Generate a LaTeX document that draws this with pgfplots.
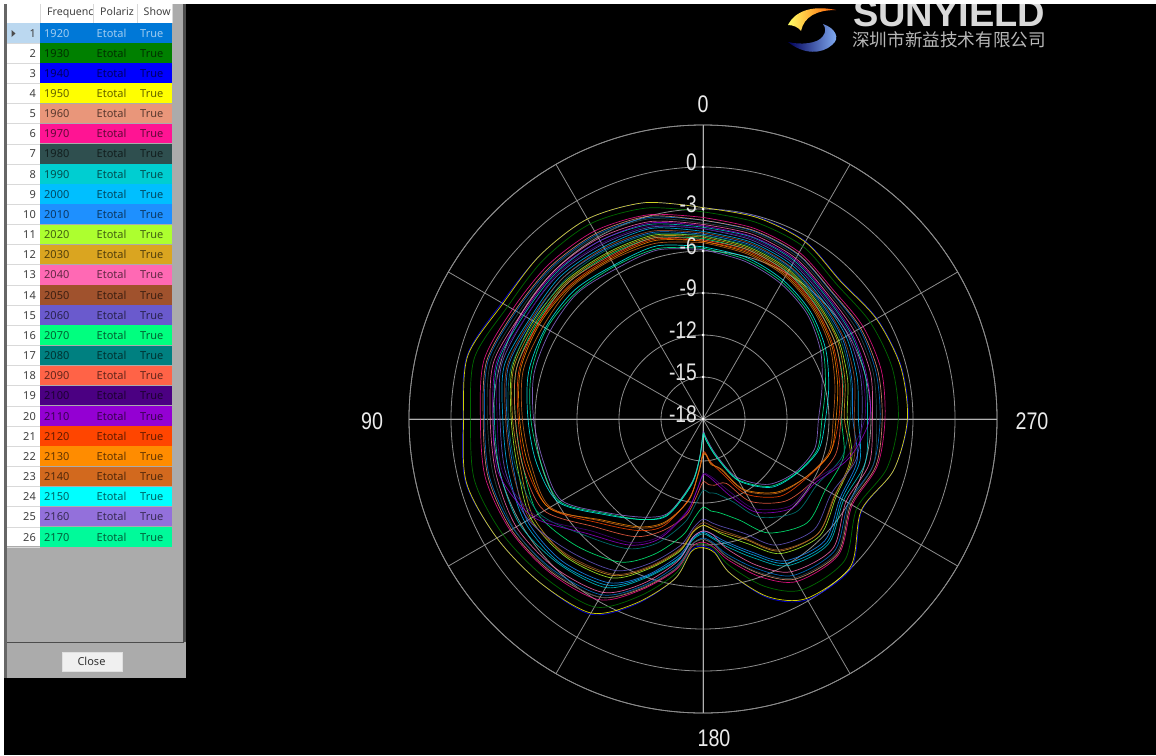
\documentclass[border=0pt]{standalone}
\usepackage{fontspec}
\usepackage{pgfplots}
\usepackage{pgfplotstable}
\pgfplotsset{compat=1.18}
\usepgfplotslibrary{polar}
\setmainfont{Liberation Sans}
\newfontfamily\ui{Noto Sans}
\newfontfamily\cjk{Noto Sans CJK SC}

\definecolor{c1920}{HTML}{0078D7}
\definecolor{c1930}{HTML}{008000}
\definecolor{c1940}{HTML}{0000FF}
\definecolor{c1950}{HTML}{FFFF00}
\definecolor{c1960}{HTML}{E9967A}
\definecolor{c1970}{HTML}{FF1493}
\definecolor{c1980}{HTML}{2F4F4F}
\definecolor{c1990}{HTML}{00CED1}
\definecolor{c2000}{HTML}{00BFFF}
\definecolor{c2010}{HTML}{1E90FF}
\definecolor{c2020}{HTML}{ADFF2F}
\definecolor{c2030}{HTML}{DAA520}
\definecolor{c2040}{HTML}{FF69B4}
\definecolor{c2050}{HTML}{A0522D}
\definecolor{c2060}{HTML}{6A5ACD}
\definecolor{c2070}{HTML}{00FF7F}
\definecolor{c2080}{HTML}{008080}
\definecolor{c2090}{HTML}{FF6347}
\definecolor{c2100}{HTML}{4B0082}
\definecolor{c2110}{HTML}{9400D3}
\definecolor{c2120}{HTML}{FF4500}
\definecolor{c2130}{HTML}{FF8C00}
\definecolor{c2140}{HTML}{D2691E}
\definecolor{c2150}{HTML}{00FFFF}
\definecolor{c2160}{HTML}{9370DB}
\definecolor{c2170}{HTML}{00FA9A}
\definecolor{rowhead}{HTML}{BBD8F0}

% gain in dB, angle counted from the top, anticlockwise
\pgfplotstableread{
a s1920 s1930 s1940 s1950 s1960 s1970 s1980 s1990 s2000 s2010 s2020 s2030 s2040 s2050 s2060 s2070 s2080 s2090 s2100 s2110 s2120 s2130 s2140 s2150 s2160 s2170
0 -3.8 -3.2 -2.9 -2.9 -3.8 -3.6 -4.0 -4.3 -4.6 -4.8 -4.9 -5.0 -4.1 -4.7 -4.4 -5.1 -4.9 -5.2 -4.4 -4.2 -5.3 -5.3 -5.4 -5.7 -5.9 -5.8
15 -3.1 -2.4 -2.0 -2.0 -3.0 -2.9 -3.2 -3.6 -3.9 -4.2 -4.4 -4.5 -3.4 -4.1 -3.8 -4.6 -4.3 -4.6 -3.7 -3.5 -4.7 -4.8 -5.0 -5.2 -5.5 -5.4
30 -2.8 -1.9 -1.5 -1.5 -2.7 -2.5 -2.9 -3.3 -3.8 -4.0 -4.3 -4.4 -3.1 -3.9 -3.6 -4.5 -4.1 -4.6 -3.5 -3.3 -4.7 -4.8 -4.9 -5.3 -5.6 -5.4
45 -2.7 -1.9 -1.5 -1.5 -2.6 -2.4 -2.8 -3.2 -3.6 -3.8 -4.1 -4.2 -3.0 -3.8 -3.4 -4.3 -4.0 -4.3 -3.3 -3.1 -4.5 -4.6 -4.7 -5.0 -5.3 -5.2
60 -2.6 -1.9 -1.4 -1.5 -2.5 -2.3 -2.8 -3.2 -3.7 -3.9 -4.0 -4.2 -3.0 -3.8 -3.4 -4.3 -4.1 -4.4 -3.4 -3.1 -4.4 -4.5 -4.8 -5.0 -5.4 -5.1
75 -2.1 -1.1 -0.55 -0.6 -2.0 -1.8 -2.3 -2.8 -3.3 -3.6 -3.9 -4.0 -2.5 -3.5 -3.1 -4.2 -3.8 -4.2 -2.9 -2.7 -4.4 -4.5 -4.7 -5.1 -5.5 -5.3
90 -2.4 -1.4 -0.85 -0.9 -2.3 -2.1 -2.6 -3.1 -3.7 -4.0 -4.3 -4.4 -2.8 -3.9 -3.5 -4.6 -4.1 -4.6 -3.3 -3.0 -4.8 -4.9 -5.1 -5.5 -5.9 -5.7
105 -2.2 -1.1 -0.45 -0.5 -2.1 -1.9 -2.5 -3.0 -3.6 -4.0 -4.3 -4.5 -2.7 -3.9 -3.4 -4.7 -4.2 -4.7 -3.2 -2.9 -4.9 -5.1 -5.3 -5.7 -6.2 -6.0
120 -2.35 -1.5 -1.0 -1.0 -2.2 -2.1 -2.4 -2.9 -3.3 -3.5 -3.8 -4.0 -2.6 -3.7 -3.6 -4.4 -4.5 -4.9 -4.2 -4.0 -5.3 -5.3 -5.4 -6.1 -6.35 -6.2
135 -2.8 -2.0 -1.5 -1.5 -2.6 -2.5 -2.7 -3.4 -3.5 -3.7 -4.1 -4.2 -3.0 -4.3 -4.6 -5.2 -6.2 -7.1 -6.7 -6.4 -7.5 -7.8 -7.7 -8.3 -8.5 -8.4
150 -3.5 -2.5 -1.9 -2.0 -3.3 -3.1 -3.3 -4.1 -4.3 -4.5 -4.9 -5.1 -3.7 -5.2 -5.5 -6.2 -7.3 -8.3 -7.8 -7.6 -8.8 -9.1 -9.0 -9.7 -9.9 -9.7
160 -5.3 -4.5 -3.9 -4.0 -5.1 -5.0 -5.2 -5.9 -6.0 -6.1 -6.6 -6.7 -5.5 -6.8 -7.05 -7.7 -8.6 -9.5 -9.1 -8.9 -9.9 -10.2 -10.1 -10.7 -10.9 -10.8
170 -7.4 -6.8 -6.4 -6.4 -7.2 -7.1 -7.2 -7.8 -7.9 -8.1 -8.4 -8.5 -7.7 -8.6 -8.85 -9.55 -10.5 -11.0 -11.3 -11.2 -12.2 -12.1 -12.1 -13.2 -13.4 -13.3
175 -9.0 -8.8 -8.6 -8.5 -9.0 -8.85 -9.0 -9.3 -9.4 -9.5 -9.9 -9.9 -9.5 -10.0 -10.2 -10.9 -11.9 -12.4 -12.9 -12.85 -14.1 -14.0 -14.1 -15.1 -15.3 -15.2
180 -9.5 -9.1 -8.9 -8.8 -9.4 -9.2 -9.4 -9.8 -9.9 -10.0 -10.4 -10.4 -10.0 -10.6 -10.85 -11.7 -12.9 -13.5 -14.1 -14.0 -15.6 -15.4 -15.5 -16.8 -17.0 -16.9
185 -9.1 -8.7 -8.5 -8.4 -9.0 -8.8 -9.0 -9.4 -9.5 -9.7 -10.1 -10.1 -9.7 -10.3 -10.55 -11.4 -12.7 -13.3 -14.0 -13.9 -15.5 -15.4 -15.45 -16.75 -17.0 -16.85
190 -8.2 -7.4 -6.8 -6.8 -8.0 -7.8 -8.0 -8.8 -9.0 -9.15 -9.6 -9.75 -8.65 -9.9 -10.2 -11.2 -12.6 -13.2 -13.7 -13.5 -14.9 -14.7 -14.8 -16.3 -16.6 -16.4
200 -6.6 -5.3 -4.4 -4.5 -6.25 -6.0 -6.35 -7.45 -7.7 -7.9 -8.5 -8.8 -6.9 -8.9 -9.3 -10.3 -11.7 -13.1 -12.5 -12.1 -13.8 -14.2 -14.1 -15.0 -15.3 -15.1
210 -5.1 -3.9 -3.1 -3.2 -4.8 -4.6 -4.9 -5.9 -6.1 -6.3 -6.9 -7.1 -5.4 -7.2 -7.6 -8.6 -9.9 -11.2 -10.6 -10.3 -11.8 -12.2 -12.1 -12.9 -13.2 -13.0
225 -4.7 -3.7 -3.0 -3.1 -4.4 -4.3 -4.5 -5.35 -5.5 -5.7 -6.2 -6.4 -4.9 -6.4 -6.8 -7.5 -8.6 -9.7 -9.2 -9.0 -10.2 -10.6 -10.5 -11.1 -11.4 -11.2
240 -6.0 -5.3 -4.9 -4.95 -5.8 -5.7 -5.9 -6.4 -6.55 -6.7 -7.0 -7.1 -6.2 -7.15 -7.4 -7.9 -8.6 -9.0 -9.0 -8.8 -9.5 -9.6 -9.6 -10.25 -10.4 -10.3
255 -5.4 -4.4 -3.9 -3.9 -5.2 -5.1 -5.4 -6.0 -6.4 -6.6 -7.0 -7.1 -5.7 -6.85 -6.7 -7.6 -7.7 -8.2 -7.4 -7.2 -8.6 -8.6 -8.7 -9.45 -9.75 -9.55
270 -5.35 -4.05 -3.35 -3.4 -5.2 -5.0 -5.6 -6.25 -6.9 -7.3 -7.7 -7.9 -5.9 -7.2 -6.65 -8.1 -7.5 -8.15 -6.45 -6.1 -8.3 -8.5 -8.7 -9.25 -9.75 -9.5
285 -5.2 -4.0 -3.35 -3.4 -5.05 -4.8 -5.4 -6.0 -6.6 -7.0 -7.3 -7.5 -5.6 -6.8 -6.35 -7.65 -7.1 -7.7 -6.2 -5.9 -7.9 -8.05 -8.25 -8.7 -9.2 -8.95
300 -5.1 -4.2 -3.65 -3.7 -5.0 -4.8 -5.3 -5.8 -6.2 -6.5 -6.8 -6.9 -5.5 -6.4 -6.05 -7.1 -6.65 -7.1 -5.9 -5.7 -7.3 -7.4 -7.55 -7.9 -8.3 -8.1
315 -5.1 -4.45 -4.05 -4.1 -5.05 -4.9 -5.25 -5.6 -5.95 -6.15 -6.35 -6.45 -5.4 -6.05 -5.8 -6.55 -6.25 -6.6 -5.7 -5.5 -6.7 -6.8 -6.9 -7.15 -7.45 -7.3
330 -4.45 -3.75 -3.35 -3.4 -4.4 -4.25 -4.6 -4.95 -5.3 -5.5 -5.7 -5.8 -4.75 -5.45 -5.15 -5.9 -5.6 -5.95 -5.05 -4.85 -6.05 -6.15 -6.25 -6.55 -6.85 -6.7
345 -4.1 -3.45 -3.05 -3.1 -4.05 -3.9 -4.2 -4.55 -4.9 -5.1 -5.3 -5.4 -4.35 -5.0 -4.75 -5.5 -5.2 -5.5 -4.65 -4.5 -5.6 -5.7 -5.8 -6.05 -6.35 -6.2
360 -3.8 -3.2 -2.9 -2.9 -3.8 -3.6 -4.0 -4.3 -4.6 -4.8 -4.9 -5.0 -4.1 -4.7 -4.4 -5.1 -4.9 -5.2 -4.4 -4.2 -5.3 -5.3 -5.4 -5.7 -5.9 -5.8
}\gaintable

\begin{document}
\begin{tikzpicture}
\useasboundingbox (0pt,-755pt) rectangle (1156pt,0pt);
\fill[black] (0pt,-755pt) rectangle (1156pt,0pt);

\begin{polaraxis}[
    at={(703pt,-419pt)}, anchor=center,
    scale only axis, width=588pt, height=588pt,
    xmin=0, xmax=360, ymin=0, ymax=21,
    clip=false,
    xtick={0,30,...,330}, ytick={3,6,...,21},
    xticklabel=\empty, yticklabel=\empty,
    grid=major,
    major grid style={color=black!45!white, line width=0.8pt},
    extra x ticks={0,90,180,270},
    extra x tick labels={},
    extra x tick style={grid=major, major grid style={color=black!30!white, line width=0.9pt}},
    axis line style={color=black!45!white, line width=0.8pt},
    tick style={draw=none},
]
\pgfplotsinvokeforeach{1920,1930,1940,1950,1960,1970,1980,1990,2000,2010,2020,2030,2040,2050,2060,2070,2080,2090,2100,2110,2120,2130,2140,2150,2160,2170}{
    \addplot[color=c#1, line width=0.7pt, opacity=0.82, smooth, tension=0.5, no markers]
        table[x expr=\thisrow{a}+90, y expr=\thisrow{s#1}+18] {\gaintable};
}
\end{polaraxis}

\begin{scope}[x=1pt,y=-1pt]
% dots where the rings cross the vertical
\foreach \y in {167,209,251,293,335,377,419}
    \fill[white] (703,\y) circle (1.5);

% ring labels
\foreach \y/\t in {167/0,209/-3,251/-6,293/-9,335/-12,377/-15,419/-18}
    \node[anchor=base east, inner sep=0pt, text=white!90!black, font=\fontsize{24}{24}\selectfont]
        at (697,\y+3) {\scalebox{.8}[1]{\t}};

% angle labels
\foreach \x/\y/\t in {703/112/0,372/429/90,1032/429/270,714/746/180}
    \node[anchor=base, inner sep=0pt, text=white!92!black, font=\fontsize{24}{24}\selectfont]
        at (\x,\y) {\scalebox{.82}[1]{\t}};

% logo
\shade[left color=yellow!60!white, right color=orange!70!red]
    (788,25) .. controls (795,11) and (812,5) .. (836,10)
    .. controls (816,10) and (804,17) .. (801,31) .. controls (798,27) and (793,25) .. (788,25) -- cycle;
\shade[left color=blue!35!black, right color=cyan!40!blue!45!white]
    (823,24) .. controls (835,28) and (841,38) .. (832,45)
    .. controls (822,54) and (804,55) .. (788,42)
    .. controls (800,45) and (818,44) .. (823,36) .. controls (826,32) and (826,28) .. (823,24) -- cycle;
\node[anchor=base west, inner sep=0pt, text=white!85!black, font=\fontsize{38}{38}\selectfont\bfseries]
    at (853,26.5) {SUNYIELD};
\node[anchor=base west, inner sep=0pt, text=white!72!black, font=\fontsize{17.6}{18}\selectfont\cjk]
    at (852,46) {深圳市新益技术有限公司};

% window with the frequency list
\fill[white] (0,0) rectangle (4,755);
\fill[black!60] (4,0) rectangle (7,678);
\fill[black!33] (7,4) rectangle (186,678);
\fill[black!70] (183,4) rectangle (186,642);
\fill[black!70] (7,642) rectangle (184,643);
\fill[white] (7,4) rectangle (172,23);
\draw[black!15] (40,4) -- (40,23) (93,4) -- (93,23) (137,4) -- (137,23);
\fill[black!15] (172,4) rectangle (172.5,23);
\begin{scope}[font=\ui\fontsize{10.6}{12}\selectfont, text=black!75]
\node[anchor=base west, inner sep=0pt] at (47,15) {Frequenc};
\node[anchor=base west, inner sep=0pt] at (100,15) {Polariz};
\node[anchor=base west, inner sep=0pt] at (143.5,15) {Show};
\end{scope}
\fill[white] (7,23) rectangle (40,546);
\fill[rowhead] (7,23) rectangle (40,43);
\fill[black!70] (11.5,30) -- (15.5,33.5) -- (11.5,37) -- cycle;
\foreach \n/\f [evaluate=\n as \yy using {23+(\n-1)*20.16}] in {1/1920,2/1930,3/1940,4/1950,5/1960,6/1970,7/1980,8/1990,9/2000,10/2010,11/2020,12/2030,13/2040,14/2050,15/2060,16/2070,17/2080,18/2090,19/2100,20/2110,21/2120,22/2130,23/2140,24/2150,25/2160,26/2170}{
    \fill[c\f] (40,\yy) rectangle (172,\yy+19.6);
    \draw[black!15] (7,\yy+19.9) -- (40,\yy+19.9);
    \node[anchor=base east, inner sep=0pt, text=black!75, font=\ui\fontsize{11}{12}\selectfont] at (36,\yy+14) {\n};
    \ifnum\n=1
        \def\tc{white}
    \else
        \def\tc{black}
    \fi
    \begin{scope}[font=\ui\fontsize{11}{12}\selectfont, text=\tc, text opacity=0.62]
    \node[anchor=base west, inner sep=0pt] at (44,\yy+14) {\f};
    \node[anchor=base west, inner sep=0pt] at (96.5,\yy+14) {Etotal};
    \node[anchor=base west, inner sep=0pt] at (140,\yy+14) {True};
    \end{scope}
}
\fill[black!6, draw=black!12] (62,652) rectangle (122,671);
\node[anchor=base, inner sep=0pt, text=black!80, font=\ui\fontsize{11}{12}\selectfont] at (91.5,665.5) {Close};

% top strip
\fill[white] (0,0) rectangle (1156,4);
\end{scope}
\end{tikzpicture}
\end{document}
